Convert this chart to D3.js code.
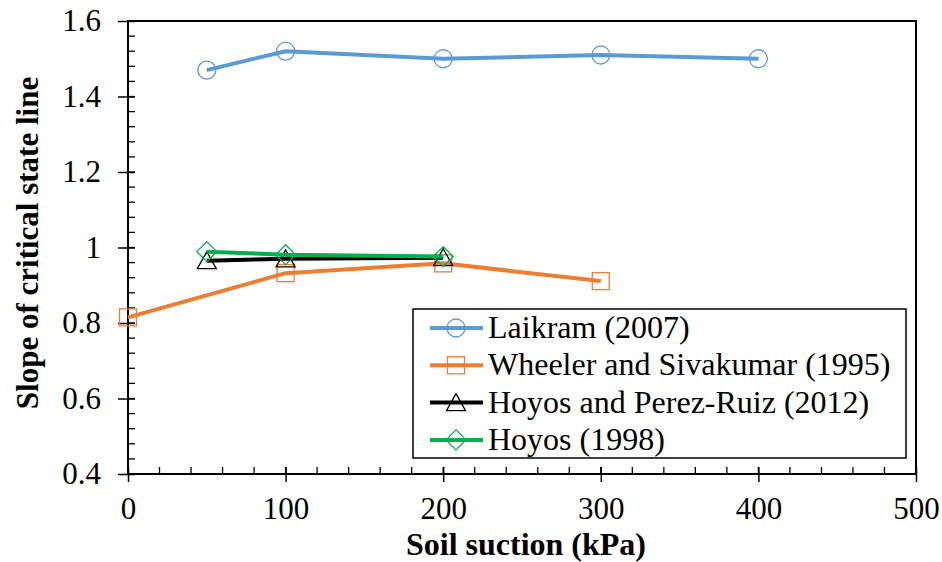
<!DOCTYPE html>
<html><head><meta charset="utf-8">
<script src="https://cdn.jsdelivr.net/npm/d3@7"></script>
<style>body{margin:0;background:#fff}svg{display:block}</style>
</head><body><svg id="c" width="942" height="562"></svg>
<script>
const seriesNames = ["Laikram (2007)","Wheeler and Sivakumar (1995)","Hoyos and Perez-Ruiz (2012)","Hoyos (1998)"];
const laikramX = [50,100,200,300,400];
const laikramY = [1.47,1.52,1.50,1.51,1.50];
const wheelerX = [0,100,200,300];
const wheelerY = [0.815,0.932,0.958,0.911];
const hoyosPRX = [50,100,200];
const hoyosPRY = [0.965,0.970,0.973];
const hoyosX = [50,100,200];
const hoyosY = [0.989,0.981,0.976];
const xTicks = [0,100,200,300,400,500];
const yTicks = [0.4,0.6,0.8,1,1.2,1.4,1.6];
const colors = ["#5B9BD5","#ED7D31","#000000","#00B050"];
const shapes = ["circle","square","triangle","diamond"];

const FONT = "Liberation Serif, Tinos, serif";
const svg = d3.select("#c");
const L=128,R=916,T=21,B=474;
const x = d3.scaleLinear().domain([0,500]).range([L,R]);
const y = d3.scaleLinear().domain([0.4,1.6]).range([B,T]);

const series = [
  {x:laikramX,y:laikramY},{x:wheelerX,y:wheelerY},{x:hoyosPRX,y:hoyosPRY},{x:hoyosX,y:hoyosY}
].map((s,i)=>({name:seriesNames[i],color:colors[i],shape:shapes[i],pts:s.x.map((v,j)=>[v,s.y[j]])}));

// frame
svg.append("rect").attr("x",L).attr("y",T).attr("width",R-L).attr("height",B-T).attr("fill","none").attr("stroke","#000").attr("stroke-width",2);

// minor ticks (inside)
const xMinor = d3.range(0,501,20);
svg.append("g").selectAll("line").data(xMinor).join("line")
  .attr("x1",d=>x(d)).attr("x2",d=>x(d)).attr("y1",B).attr("y2",B-7).attr("stroke","#000").attr("stroke-width",1.3);
const yMinor = d3.range(0,31).map(i=>0.4+i*0.04);
svg.append("g").selectAll("line").data(yMinor).join("line")
  .attr("y1",d=>y(d)).attr("y2",d=>y(d)).attr("x1",L).attr("x2",L+7).attr("stroke","#000").attr("stroke-width",1.3);

// axes
const xAxis = svg.append("g").attr("transform",`translate(0,${B})`)
  .call(d3.axisBottom(x).tickValues(xTicks).tickSize(8).tickPadding(15).tickFormat(d3.format("d")));
xAxis.attr("font-family",null);
xAxis.select(".domain").remove();
xAxis.selectAll(".tick line").attr("y1",-7).attr("stroke-width",1.5);
xAxis.selectAll("text").style("font-size","31px").style("font-family",FONT).attr("fill","#000");

const yAxis = svg.append("g").attr("transform",`translate(${L},0)`)
  .call(d3.axisLeft(y).tickValues(yTicks).tickSize(10).tickPadding(17).tickFormat(d=>d===1?"1":d3.format(".1f")(d)));
yAxis.attr("font-family",null);
yAxis.select(".domain").remove();
yAxis.selectAll(".tick line").attr("x1",7).attr("stroke-width",1.5);
yAxis.selectAll("text").style("font-size","31px").style("font-family",FONT).attr("fill","#000");

// titles
svg.append("text").attr("x",526).attr("y",555).attr("text-anchor","middle")
  .style("font-size","32px").style("font-family",FONT).style("font-weight","bold").text("Soil suction (kPa)");
svg.append("text").attr("transform",`translate(38,${243}) rotate(-90)`).attr("text-anchor","middle")
  .style("font-size","31px").style("font-family",FONT).style("font-weight","bold").text("Slope of critical state line");

function marker(g,shape,color,cx,cy){
  const st = s=>s.attr("fill","none").attr("stroke",color).attr("stroke-width",1.3);
  if(shape==="circle") st(g.append("circle").attr("cx",cx).attr("cy",cy).attr("r",9));
  else if(shape==="square") st(g.append("rect").attr("x",cx-8.5).attr("y",cy-8.5).attr("width",17).attr("height",17));
  else if(shape==="triangle") st(g.append("path").attr("d",`M${cx},${cy-9}L${cx+9.5},${cy+8}L${cx-9.5},${cy+8}Z`));
  else st(g.append("path").attr("d",`M${cx},${cy-10}L${cx+10},${cy}L${cx},${cy+10}L${cx-10},${cy}Z`));
}

const line = d3.line().x(d=>x(d[0])).y(d=>y(d[1]));
series.forEach(s=>{
  const g = svg.append("g");
  g.append("path").datum(s.pts).attr("d",line).attr("fill","none").attr("stroke",s.color).attr("stroke-width",4).attr("stroke-linejoin","round");
  s.pts.forEach(p=>marker(g,s.shape,s.color,x(p[0]),y(p[1])));
});

// legend
const lg = svg.append("g");
lg.append("rect").attr("x",413).attr("y",309).attr("width",493).attr("height",149).attr("fill","#fff").attr("stroke","#000").attr("stroke-width",1.5);
series.forEach((s,i)=>{
  const cy = 328 + i*37.3;
  lg.append("line").attr("x1",430).attr("x2",483).attr("y1",cy).attr("y2",cy).attr("stroke",s.color).attr("stroke-width",4);
  marker(lg,s.shape,s.color,456,cy);
  lg.append("text").attr("x",488).attr("y",cy+10).style("font-size","32px").style("font-family",FONT).text(s.name);
});
</script></body></html>
